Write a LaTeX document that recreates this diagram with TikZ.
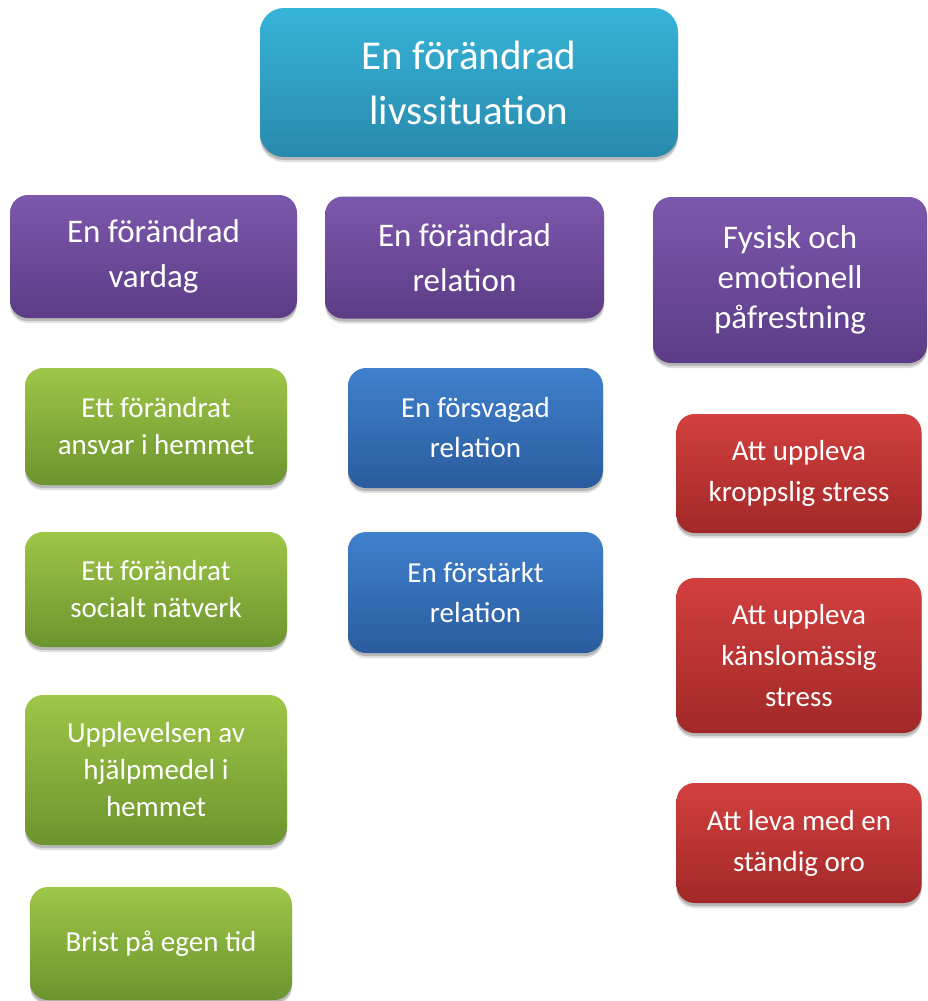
\documentclass[tikz,border=0pt]{standalone}
\usepackage{fontspec}
\setmainfont{Carlito}
\usetikzlibrary{shadows}
\definecolor{cyT}{RGB}{54,180,216}
\definecolor{cyB}{RGB}{40,138,172}
\definecolor{puT}{RGB}{124,88,172}
\definecolor{puB}{RGB}{92,60,134}
\definecolor{grT}{RGB}{158,198,72}
\definecolor{grB}{RGB}{108,148,46}
\definecolor{blT}{RGB}{64,128,204}
\definecolor{blB}{RGB}{42,92,158}
\definecolor{rdT}{RGB}{210,64,62}
\definecolor{rdB}{RGB}{162,40,40}
\tikzset{
  boxbase/.style={rectangle, rounded corners=18pt, draw=none, text=white, align=center, inner sep=0pt,
    drop shadow={shadow xshift=0pt, shadow yshift=-5pt, opacity=0.12, fill=black},
    drop shadow={shadow xshift=0pt, shadow yshift=-3pt, opacity=0.18, fill=black}},
  topbox/.style={boxbase, rounded corners=24pt, top color=cyT, bottom color=cyB, font=\fontsize{41}{55}\selectfont},
  catbox/.style={boxbase, top color=puT, bottom color=puB, font=\fontsize{33}{45}\selectfont},
  greenbox/.style={boxbase, top color=grT, bottom color=grB, font=\fontsize{29}{37}\selectfont, minimum width=262pt},
  bluebox/.style={boxbase, top color=blT, bottom color=blB, font=\fontsize{29}{40}\selectfont, minimum width=255pt},
  redbox/.style={boxbase, top color=rdT, bottom color=rdB, font=\fontsize{29}{41}\selectfont, minimum width=245pt},
}
\begin{document}
\begin{tikzpicture}[x=1pt,y=-1pt]
\useasboundingbox (0,0) rectangle (928,1001);
\node[topbox, minimum width=418pt, minimum height=149pt] (top) at (469,82.5) {En förändrad\\livssituation};
\node[catbox, minimum width=287pt, minimum height=123pt] (vardag) at (153.5,256.5) {En förändrad\\vardag};
\node[catbox, minimum width=279pt, minimum height=122pt] (relation) at (464.5,257.5) {En förändrad\\relation};
\node[catbox, minimum width=274pt, minimum height=166pt, font=\fontsize{33}{40}\selectfont] (fysisk) at (790,280) {Fysisk och\\emotionell\\påfrestning};
\node[greenbox, minimum height=117pt] (g1) at (156,426.5) {Ett förändrat\\ansvar i hemmet};
\node[greenbox, minimum height=115pt] (g2) at (156,589.5) {Ett förändrat\\socialt nätverk};
\node[greenbox, minimum height=150pt] (g3) at (156,770) {Upplevelsen av\\hjälpmedel i\\hemmet};
\node[greenbox, minimum width=262pt, minimum height=113pt] (g4) at (161,943.5) {Brist på egen tid};
\node[bluebox, minimum height=120pt] (b1) at (475.5,428) {En försvagad\\relation};
\node[bluebox, minimum height=121pt] (b2) at (475.5,592.5) {En förstärkt\\relation};
\node[redbox, minimum height=119pt] (r1) at (799,473.5) {Att uppleva\\kroppslig stress};
\node[redbox, minimum height=155pt] (r2) at (799,655.5) {Att uppleva\\känslomässig\\stress};
\node[redbox, minimum height=120pt] (r3) at (799,843) {Att leva med en\\ständig oro};
\end{tikzpicture}
\end{document}
